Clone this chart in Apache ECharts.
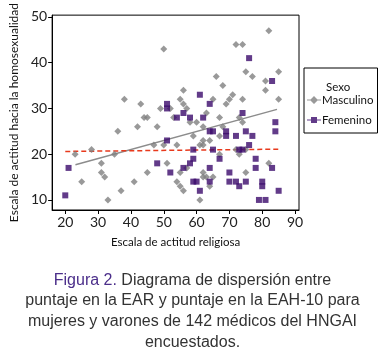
<!DOCTYPE html>
<html>
<head>
<meta charset="utf-8">
<script src="https://cdn.jsdelivr.net/npm/echarts@6/dist/echarts.min.js"></script>
<style>
  html, body { margin: 0; padding: 0; background: #fff; }
  #chart { width: 385px; height: 351px; }
</style>
</head>
<body>
<div id="chart"></div>
<script>
// EAR (x) vs EAH-10 (y)
let masculino = [
  [50, 43], [82, 47], [72, 44], [74, 44], [66, 37], [75, 38], [77, 37], [85, 38],
  [81, 36], [38, 32], [43, 31], [49, 30], [52, 30], [53, 28], [44, 28], [45, 28],
  [36, 25], [42, 26], [48, 26], [47, 22], [50, 22], [54, 22], [28, 21], [68, 35],
  [81, 34], [56, 34], [71, 33], [70, 32], [74, 32], [85, 32], [55, 32], [65, 32],
  [56, 31], [69, 31], [57, 30], [63, 29], [67, 28], [73, 28], [58, 27], [60, 27],
  [74, 27], [62, 26], [68, 26], [59, 24], [67, 24], [62, 23], [64, 23], [61, 22],
  [62, 22], [72, 21], [73, 20], [75, 21], [67, 20], [23, 20], [35, 20], [31, 18],
  [31, 16], [32, 15], [25, 14], [33, 10], [37, 12], [41, 14], [45, 16], [51, 18],
  [54, 14], [82, 18], [55, 16], [57, 17], [62, 16], [62, 15], [63, 15], [64, 13],
  [65, 15], [61, 10], [55, 13], [56, 12], [75, 16]
];
let femenino = [
  [76, 41], [83, 36], [51, 31], [51, 30], [54, 28], [51, 23], [61, 33], [64, 31],
  [56, 29], [74, 29], [58, 28], [62, 28], [84, 27], [64, 25], [65, 25], [69, 25],
  [69, 24], [75, 25], [84, 25], [72, 24], [77, 24], [76, 22], [59, 21], [65, 21],
  [73, 21], [74, 21], [67, 19], [21, 17], [20, 11], [48, 18], [52, 16], [78, 19],
  [78, 17], [83, 17], [59, 19], [58, 18], [56, 17], [64, 17], [64, 14], [59, 14],
  [60, 14], [61, 12], [70, 16], [70, 14], [72, 14], [73, 13], [75, 14], [80, 14],
  [80, 13], [79, 10], [81, 10], [85, 12]
];
// fit lines (end points)
let fitMasculino = [[23.1, 17.7], [84.5, 29.8]];
let fitFemenino = [[20, 20.6], [85, 21.1]];

let xTicks = [20, 30, 40, 50, 60, 70, 80, 90];
let yTicks = [10, 20, 30, 40, 50];

let axisFont = "Lato";
let iconDiamond = "path://M0,4.5H3.5L7,1L10.5,4.5H14V5.5H10.5L7,9L3.5,5.5H0Z";
let iconSquare = "path://M0,4.5H4V2H10V4.5H14V5.5H10V8H4V5.5H0Z";

let option = {
  animation: false,
  title: [
    {
      text: "{a|Figura 2.} Diagrama de dispersión entre\npuntaje en la EAR y puntaje en la EAH-10 para\nmujeres y varones de 142 médicos del HNGAI\nencuestados.",
      left: "center",
      top: 265,
      textStyle: {
        fontFamily: "Liberation Sans",
        fontSize: 16,
        fontWeight: "normal",
        color: "#333",
        lineHeight: 20.7,
        rich: {
          a: { fontFamily: "Liberation Sans", fontSize: 16, color: "#4b2e8a", lineHeight: 20.7 }
        }
      }
    },
    {
      text: "Sexo",
      left: 321,
      top: 76,
      textStyle: { fontFamily: axisFont, fontSize: 11.5, fontWeight: "normal", color: "#111" }
    }
  ],
  legend: {
    orient: "vertical",
    left: 304,
    top: 68,
    padding: [26, 4, 7, 3],
    itemWidth: 14,
    itemHeight: 10,
    itemGap: 8,
    borderColor: "#000",
    borderWidth: 1,
    textStyle: { fontFamily: axisFont, fontSize: 11.5, color: "#111", padding: [0, 0, 0, -4] },
    data: [
      { name: "Masculino", icon: iconDiamond, itemStyle: { color: "#808080" } },
      { name: "Femenino", icon: iconSquare, itemStyle: { color: "#3b0a6b" } }
    ]
  },
  grid: {
    left: 45,
    top: 14.7,
    right: 86,
    bottom: 141,
    show: true,
    borderColor: "#000",
    borderWidth: 1
  },
  xAxis: {
    type: "value",
    min: 16,
    max: 91.2,
    name: "Escala de actitud religiosa",
    nameLocation: "middle",
    nameGap: 26,
    nameTextStyle: { fontFamily: axisFont, fontSize: 11.5, color: "#111" },
    axisLine: { lineStyle: { color: "#000", width: 1 } },
    axisTick: { customValues: xTicks, length: 4, lineStyle: { color: "#000" } },
    axisLabel: { customValues: xTicks, margin: 5, fontFamily: axisFont, fontSize: 14, color: "#222" },
    splitLine: { show: false }
  },
  yAxis: {
    type: "value",
    min: 7.8,
    max: 50.4,
    name: "Escala de actitud hacia la homosexualidad",
    nameLocation: "middle",
    nameGap: 27,
    nameTextStyle: { fontFamily: axisFont, fontSize: 12, color: "#111" },
    axisLine: { show: true, lineStyle: { color: "#000", width: 1 } },
    axisTick: { show: true, customValues: yTicks, length: 4, lineStyle: { color: "#000" } },
    axisLabel: { customValues: yTicks, margin: 5, fontFamily: axisFont, fontSize: 14, color: "#222" },
    splitLine: { show: false }
  },
  series: [
    {
      name: "fitM",
      type: "line",
      data: fitMasculino,
      symbol: "none",
      silent: true,
      z: 1,
      lineStyle: { color: "#8c8c8c", width: 1.5 }
    },
    {
      name: "fitF",
      type: "line",
      data: fitFemenino,
      symbol: "none",
      silent: true,
      z: 1,
      lineStyle: { color: "#e8391c", width: 1.5, type: [5, 3] }
    },
    {
      name: "Masculino",
      type: "scatter",
      data: masculino,
      symbol: "diamond",
      symbolSize: 7,
      z: 2,
      itemStyle: { color: "#808080" }
    },
    {
      name: "Femenino",
      type: "scatter",
      data: femenino,
      symbol: "rect",
      symbolSize: 6,
      z: 3,
      itemStyle: { color: "#3b0a6b" }
    }
  ]
};

let chart = echarts.init(document.getElementById("chart"));
chart.setOption(option);
</script>
</body>
</html>
